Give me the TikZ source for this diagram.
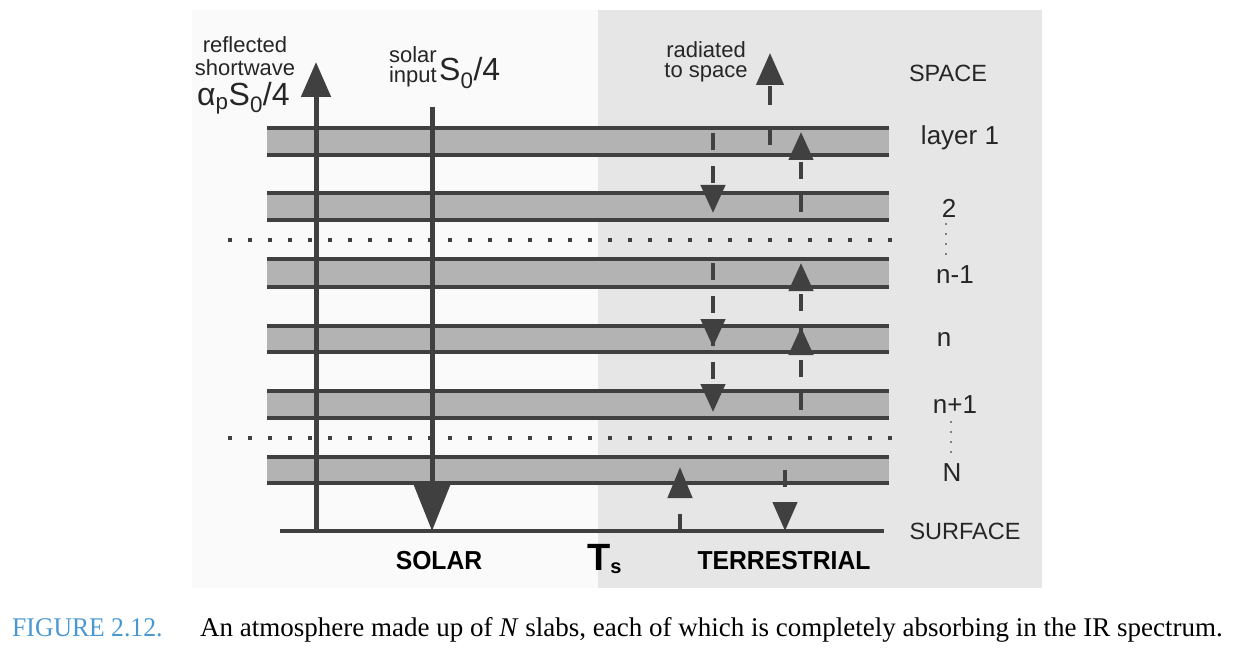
\documentclass[tikz,border=0pt]{standalone}
\usepackage{fontspec}
\setmainfont{Liberation Serif}
\setsansfont{Liberation Sans}
\usetikzlibrary{arrows.meta}
\definecolor{ink}{HTML}{404040}
\definecolor{bandgray}{HTML}{B3B3B3}
\definecolor{leftbg}{HTML}{FAFAFA}
\definecolor{rightbg}{HTML}{E6E6E6}
\definecolor{capblue}{HTML}{4A98D2}
\newcommand\mkslab[2]{%
  \fill[bandgray] (267,#1) rectangle (889,#2);
  \draw[bandline] (267,#1) -- (889,#1);
  \draw[bandline] (267,#2) -- (889,#2);}
\begin{document}
\begin{tikzpicture}[x=1pt,y=-1pt,
  bandline/.style={draw=ink,line width=3.5pt},
  dotrow/.style={draw=ink,line width=3.5pt,dash pattern=on 3.5pt off 16.5pt},
  vdots/.style={draw=gray,line width=2pt,dash pattern=on 2pt off 8pt},
  bigup/.style={draw=ink,line width=5pt,-{Triangle[length=35pt,width=29pt]}},
  bigdown/.style={draw=ink,line width=5pt,-{Triangle[length=47pt,width=36pt]}},
  irarrow/.style={draw=ink,line width=4.5pt,dash pattern=on 17pt off 16pt,-{Triangle[length=28pt,width=24pt]}},
  lbl/.style={font=\fontsize{22}{22}\selectfont\sffamily,inner sep=0pt,text=black!85},
  rlbl/.style={font=\fontsize{23.5}{23.5}\selectfont\sffamily,inner sep=0pt,text=black!85},
  laylbl/.style={font=\fontsize{26}{26}\selectfont\sffamily,inner sep=0pt,text=black!85},
  biglbl/.style={font=\fontsize{32}{32}\selectfont\sffamily,inner sep=0pt,text=black!85},
  boldlbl/.style={font=\fontsize{26}{26}\selectfont\sffamily\bfseries,inner sep=0pt,text=black},
]
\useasboundingbox (0,0) rectangle (1236,652);
% backgrounds
\fill[leftbg] (192,10) rectangle (598,588);
\fill[rightbg] (598,10) rectangle (1042,588);
% slabs
\mkslab{128}{155}
\mkslab{193}{220}
\mkslab{259}{287}
\mkslab{326}{352}
\mkslab{391}{418}
\mkslab{457}{483}
% dotted rows
\draw[dotrow] (228,240) -- (892,240);
\draw[dotrow] (228,438) -- (892,438);
% surface
\coordinate (sl) at (280,531);
\coordinate (sr) at (884,531);
\draw[bandline] (sl) -- (sr);
% shortwave arrows
\coordinate (refS) at (316,531);
\coordinate (refE) at (316,62);
\draw[bigup] (refS) -- (refE);
\coordinate (solS) at (432,107);
\coordinate (solE) at (432,531);
\draw[bigdown] (solS) -- (solE);
% IR arrows
\coordinate (radS) at (770,145);
\coordinate (radE) at (770,53);
\draw[irarrow,dash pattern=on 19pt off 21pt,-{Triangle[length=32pt,width=27pt]}] (radS) -- (radE);
\coordinate (d1S) at (713,133);
\coordinate (d1E) at (713,213);
\draw[irarrow] (d1S) -- (d1E);
\coordinate (u2S) at (801,212);
\coordinate (u2E) at (801,132);
\draw[irarrow] (u2S) -- (u2E);
\coordinate (dn1S) at (713,263);
\coordinate (dn1E) at (713,347);
\draw[irarrow] (dn1S) -- (dn1E);
\coordinate (dnS) at (713,329);
\coordinate (dnE) at (713,412);
\draw[irarrow] (dnS) -- (dnE);
\coordinate (unS) at (801,344);
\coordinate (unE) at (801,263);
\draw[irarrow] (unS) -- (unE);
\coordinate (un1S) at (801,410);
\coordinate (un1E) at (801,327);
\draw[irarrow] (un1S) -- (un1E);
\coordinate (ugS) at (680,531);
\coordinate (ugE) at (680,467);
\draw[irarrow,-{Triangle[length=31pt,width=24pt]}] (ugS) -- (ugE);
\coordinate (dgS) at (785,470);
\coordinate (dgE) at (785,531);
\draw[irarrow,-{Triangle[length=29pt,width=24pt]}] (dgS) -- (dgE);
% labels top-left
\node[lbl] (t1) at (245,45) {reflected};
\node[lbl] (t2) at (245,68) {shortwave};
\node[biglbl,anchor=west] (t3) at (197,98) {α\textsubscript{p}S\textsubscript{0}/4};
\node[lbl,anchor=east] (s1) at (437,55) {solar};
\node[lbl,anchor=east] (s2) at (437,77) {input};
\node[biglbl,anchor=west] (s3) at (439,73) {S\textsubscript{0}/4};
\node[lbl] (r1) at (706,50) {radiated};
\node[lbl] (r2) at (706,73) {to space};
% right labels
\node[rlbl] (space) at (948,73) {SPACE};
\node[laylbl] (l1) at (960,138) {layer 1};
\node[laylbl] (l2) at (949,208) {2};
\node[laylbl] (ln1) at (955,275) {n-1};
\node[laylbl] (ln) at (944,340) {n};
\node[laylbl] (lnp) at (955,405) {n+1};
\node[laylbl] (lN) at (952,473) {N};
\node[rlbl] (surf) at (965,531) {SURFACE};
\draw[vdots] (946,223) -- (946,256);
\draw[vdots] (951,421) -- (951,454);
% bottom labels
\node[boldlbl] (solar) at (439,561) {\scalebox{0.95}[1]{SOLAR}};
\node[boldlbl] (terr) at (784,561) {\scalebox{0.95}[1]{TERRESTRIAL}};
\node[inner sep=0pt,anchor=base west,font=\fontsize{38}{38}\selectfont\sffamily\bfseries] (ts) at (587,570) {T\textsubscript{\fontsize{20}{20}\selectfont s}};
% caption
\node[anchor=base west,inner sep=0pt,font=\fontsize{27}{27}\selectfont\rmfamily,text=capblue] (cap1) at (12,636) {\scalebox{0.95}[1]{FIGURE 2.12.}};
\node[anchor=base west,inner sep=0pt,font=\fontsize{27}{27}\selectfont\rmfamily] (cap2) at (200,636) {An atmosphere made up of \textit{N} slabs, each of which is completely absorbing in the IR spectrum.};
\end{tikzpicture}
\end{document}
